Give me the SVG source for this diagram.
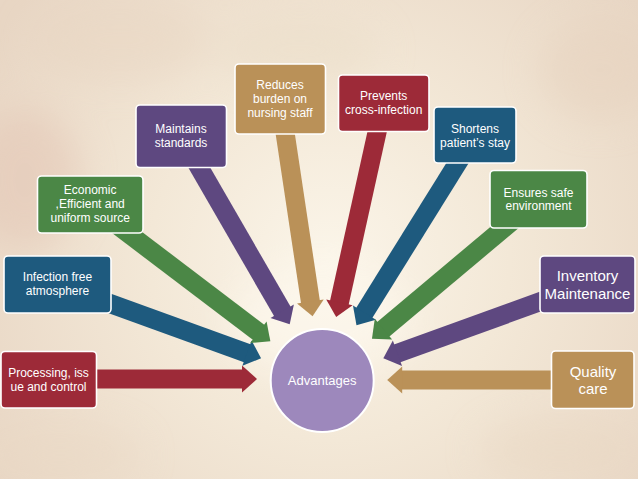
<svg xmlns="http://www.w3.org/2000/svg" width="638" height="479" viewBox="0 0 638 479">
  <defs>
    <radialGradient id="bg" cx="330" cy="260" r="400" gradientUnits="userSpaceOnUse">
      <stop offset="0" stop-color="#FBF5E9"/>
      <stop offset="0.45" stop-color="#F3E8D7"/>
      <stop offset="1" stop-color="#E8D6C4"/>
    </radialGradient>
    <filter id="blur" x="-50%" y="-50%" width="200%" height="200%">
      <feGaussianBlur stdDeviation="18"/>
    </filter>
    <marker id="hRed" markerUnits="userSpaceOnUse" markerWidth="16" markerHeight="28" viewBox="-1 -14 16 28" refX="0" refY="0" orient="auto" overflow="visible"><path d="M-1,-13.5 L14,0 L-1,13.5 z" fill="#9d2a38"/></marker>
    <marker id="hBlue" markerUnits="userSpaceOnUse" markerWidth="16" markerHeight="28" viewBox="-1 -14 16 28" refX="0" refY="0" orient="auto" overflow="visible"><path d="M-1,-13.5 L14,0 L-1,13.5 z" fill="#1e5a7e"/></marker>
    <marker id="hGreen" markerUnits="userSpaceOnUse" markerWidth="16" markerHeight="28" viewBox="-1 -14 16 28" refX="0" refY="0" orient="auto" overflow="visible"><path d="M-1,-13.5 L14,0 L-1,13.5 z" fill="#4b8746"/></marker>
    <marker id="hPurple" markerUnits="userSpaceOnUse" markerWidth="16" markerHeight="28" viewBox="-1 -14 16 28" refX="0" refY="0" orient="auto" overflow="visible"><path d="M-1,-13.5 L14,0 L-1,13.5 z" fill="#5e4880"/></marker>
    <marker id="hTan" markerUnits="userSpaceOnUse" markerWidth="16" markerHeight="28" viewBox="-1 -14 16 28" refX="0" refY="0" orient="auto" overflow="visible"><path d="M-1,-13.5 L14,0 L-1,13.5 z" fill="#ba9158"/></marker>
  </defs>
  <style>
    .box { stroke: #ffffff; stroke-width: 1.6; }
    .red { fill: #9d2a38; }
    .blue { fill: #1e5a7e; }
    .green { fill: #4b8746; }
    .purple { fill: #5e4880; }
    .tan { fill: #ba9158; }
    .lbl { font-family: "Liberation Sans", Arial, sans-serif; font-size: 12px; fill: #ffffff; text-anchor: middle; }
    .big { font-size: 15px; }
    .sh { fill: none; stroke-width: 19; stroke-linecap: butt; }
    .sRed { stroke: #9d2a38; marker-end: url(#hRed); }
    .sBlue { stroke: #1e5a7e; marker-end: url(#hBlue); }
    .sGreen { stroke: #4b8746; marker-end: url(#hGreen); }
    .sPurple { stroke: #5e4880; marker-end: url(#hPurple); }
    .sTan { stroke: #ba9158; marker-end: url(#hTan); }
  </style>

  <!-- background -->
  <rect x="0" y="0" width="638" height="479" fill="url(#bg)"/>
  <g filter="url(#blur)" opacity="0.5">
    <ellipse cx="25" cy="180" rx="55" ry="70" fill="#E2C3B2"/>
    <ellipse cx="600" cy="70" rx="60" ry="50" fill="#E6D2BE"/>
    <ellipse cx="120" cy="40" rx="90" ry="40" fill="#E8D6C2"/>
    <ellipse cx="300" cy="50" rx="80" ry="35" fill="#EADDC8"/>
    <ellipse cx="560" cy="450" rx="80" ry="30" fill="#E9D8C3"/>
    <ellipse cx="60" cy="455" rx="80" ry="30" fill="#EAD9C5"/>
    <ellipse cx="320" cy="320" rx="90" ry="55" fill="#FFFBF2"/>
  </g>

  <!-- connectors -->
  <g id="connectors">
    <line class="sh sRed" x1="48.5" y1="379" x2="243" y2="379"/>
    <line class="sh sBlue" x1="57.5" y1="284.5" x2="247.9" y2="353.5"/>
    <line class="sh sGreen" x1="90.2" y1="204.5" x2="259.2" y2="332.8"/>
    <line class="sh sPurple" x1="181" y1="136" x2="282.7" y2="312.1"/>
    <line class="sh sTan" x1="280" y1="99" x2="310.5" y2="302.4"/>
    <line class="sh sRed" x1="383.5" y1="103" x2="339.2" y2="303.4"/>
    <line class="sh sBlue" x1="475" y1="135" x2="363.9" y2="313.4"/>
    <line class="sh sGreen" x1="538.5" y1="199" x2="382.7" y2="329.7"/>
    <line class="sh sPurple" x1="587.5" y1="284.5" x2="396.5" y2="353.6"/>
    <line class="sh sTan" x1="593" y1="380" x2="401.2" y2="380"/>
  </g>

  <!-- nodes -->
  <g id="processing">
    <rect class="box red" x="1" y="351.5" width="95.5" height="56.5" rx="4"/>
    <text class="lbl" x="48.5" y="377.1">Processing, iss</text>
    <text class="lbl" x="48.5" y="390.9">ue and control</text>
  </g>
  <g id="infection">
    <rect class="box blue" x="4" y="256" width="107" height="57" rx="4"/>
    <text class="lbl" x="57.5" y="280.8">Infection free</text>
    <text class="lbl" x="57.5" y="294.6">atmosphere</text>
  </g>
  <g id="economic">
    <rect class="box green" x="37.5" y="176" width="105.5" height="57" rx="4"/>
    <text class="lbl" x="90.2" y="194.4">Economic</text>
    <text class="lbl" x="90.2" y="208.2">,Efficient and</text>
    <text class="lbl" x="90.2" y="222">uniform source</text>
  </g>
  <g id="maintains">
    <rect class="box purple" x="136" y="105" width="90.5" height="62.5" rx="4"/>
    <text class="lbl" x="181" y="133.2">Maintains</text>
    <text class="lbl" x="181" y="147">standards</text>
  </g>
  <g id="reduces">
    <rect class="box tan" x="235" y="64" width="90.5" height="70" rx="4"/>
    <text class="lbl" x="280" y="89.1">Reduces</text>
    <text class="lbl" x="280" y="102.9">burden on</text>
    <text class="lbl" x="280" y="116.7">nursing staff</text>
  </g>
  <g id="prevents">
    <rect class="box red" x="338.5" y="75" width="90.5" height="56.5" rx="4"/>
    <text class="lbl" x="383.7" y="100.3">Prevents</text>
    <text class="lbl" x="383.7" y="114.1">cross-infection</text>
  </g>
  <g id="shortens">
    <rect class="box blue" x="434" y="107" width="82" height="56" rx="4"/>
    <text class="lbl" x="475" y="133.2">Shortens</text>
    <text class="lbl" x="475" y="147">patient’s stay</text>
  </g>
  <g id="ensures">
    <rect class="box green" x="490" y="170.5" width="97" height="57.5" rx="4"/>
    <text class="lbl" x="538.5" y="196.6">Ensures safe</text>
    <text class="lbl" x="538.5" y="210.4">environment</text>
  </g>
  <g id="inventory">
    <rect class="box purple" x="540" y="256" width="95" height="57" rx="4"/>
    <text class="lbl big" x="587.5" y="281.4">Inventory</text>
    <text class="lbl big" x="587.5" y="298.6">Maintenance</text>
  </g>
  <g id="quality">
    <rect class="box tan" x="551.5" y="351" width="82.5" height="57.5" rx="4"/>
    <text class="lbl big" x="593" y="376.6">Quality</text>
    <text class="lbl big" x="593" y="393.8">care</text>
  </g>
  <g id="advantages">
    <circle cx="322.2" cy="380.5" r="51.5" fill="#9d88bc" stroke="#ffffff" stroke-width="2"/>
    <text class="lbl" x="322.2" y="385" style="font-size:13px">Advantages</text>
  </g>
</svg>
